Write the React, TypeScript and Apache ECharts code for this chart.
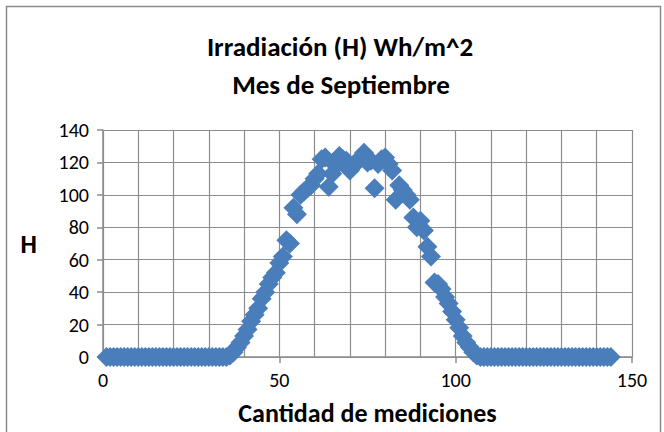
import React, { useEffect, useRef } from "react";
import * as echarts from "echarts";

const titleLines = ["Irradiación (H) Wh/m^2", "Mes de Septiembre"];
const xAxisName = "Cantidad de mediciones";
const yAxisName = "H";
const yTicks = [0, 20, 40, 60, 80, 100, 120, 140];
const xTicks = [0, 50, 100, 150];

// measurement index 1..144
const measurements: number[] = Array.from({ length: 144 }, (_, i) => i + 1);
// irradiation values
const irradiation: number[] = [
  // 1-35
  0, 0, 0, 0, 0, 0, 0, 0, 0, 0,
  0, 0, 0, 0, 0, 0, 0, 0, 0, 0,
  0, 0, 0, 0, 0, 0, 0, 0, 0, 0,
  0, 0, 0, 0, 0,
  // 36-50
  1, 3, 6, 9, 13, 17, 22, 26, 30, 36, 40, 45, 49, 52, 58,
  // 51-65
  62, 72, 70, 92, 88, 100, 102, 104, 106, 110, 113, 122, 123, 105, 113,
  // 66-80
  118, 124, 122, 121, 115, 118, 120, 123, 126, 120, 121, 104, 119, 122, 123,
  // 81-95
  119, 115, 97, 106, 103, 100, 97, 86, 80, 84, 78, 68, 62, 46, 45,
  // 96-107
  42, 37, 33, 28, 23, 18, 13, 9, 6, 3, 1, 0,
  // 108-144
  0, 0, 0, 0, 0, 0, 0, 0, 0, 0,
  0, 0, 0, 0, 0, 0, 0, 0, 0, 0,
  0, 0, 0, 0, 0, 0, 0, 0, 0, 0,
  0, 0, 0, 0, 0, 0, 0,
];

const FONT = "Carlito, Lato, 'Open Sans', sans-serif";
const GRID_COLOR = "#8c8c8c";

export default function App() {
  const ref = useRef<HTMLDivElement>(null);
  useEffect(() => {
    if (!ref.current) return;
    const chart = echarts.init(ref.current, undefined, { renderer: "svg" });
    const data = measurements.map((x, i) => [x, irradiation[i]]);
    chart.setOption({
      animation: false,
      backgroundColor: "#ffffff",
      grid: { left: 103, right: 32, top: 130, bottom: 75 },
      graphic: [
        {
          type: "rect",
          shape: { x: 6.5, y: 6.5, width: 654, height: 440 },
          style: { fill: "none", stroke: "#8a8a8a", lineWidth: 1.5 },
          silent: true,
        },
        {
          type: "text",
          x: 340,
          y: 46,
          style: {
            text: titleLines[0],
            font: `bold 27px ${FONT}`,
            fill: "#000",
            align: "center",
            verticalAlign: "middle",
          },
        },
        {
          type: "text",
          x: 341,
          y: 84,
          style: {
            text: titleLines[1],
            font: `bold 27px ${FONT}`,
            fill: "#000",
            align: "center",
            verticalAlign: "middle",
          },
        },
      ],
      xAxis: {
        type: "value",
        min: xTicks[0],
        max: xTicks[xTicks.length - 1],
        interval: 50,
        name: xAxisName,
        nameLocation: "middle",
        nameGap: 43,
        nameTextStyle: { fontFamily: FONT, fontWeight: "bold", fontSize: 26, color: "#000" },
        axisLine: { show: true, onZero: false, lineStyle: { color: GRID_COLOR, width: 1.5 } },
        axisTick: { show: true, inside: false, length: 6, lineStyle: { color: GRID_COLOR, width: 1.5 } },
        axisLabel: { fontFamily: FONT, fontSize: 20, color: "#000", margin: 13 },
        splitLine: { show: true, lineStyle: { color: GRID_COLOR, width: 1.2 } },
        minorTick: { show: false, splitNumber: 5 },
        minorSplitLine: { show: true, lineStyle: { color: GRID_COLOR, width: 1.2 } },
      },
      yAxis: {
        type: "value",
        min: yTicks[0],
        max: yTicks[yTicks.length - 1],
        interval: 20,
        name: yAxisName,
        nameLocation: "middle",
        nameRotate: 0,
        nameGap: 66,
        nameTextStyle: { fontFamily: FONT, fontWeight: "bold", fontSize: 26, color: "#000" },
        axisLine: { show: true, lineStyle: { color: GRID_COLOR, width: 1.5 } },
        axisTick: { show: true, inside: false, length: 6, lineStyle: { color: GRID_COLOR, width: 1.5 } },
        axisLabel: { fontFamily: FONT, fontSize: 20, color: "#000", margin: 14 },
        splitLine: { show: true, lineStyle: { color: GRID_COLOR, width: 1.2 } },
      },
      series: [
        {
          type: "scatter",
          data,
          symbol: "diamond",
          symbolSize: 20,
          itemStyle: { color: "#4a7ebb", opacity: 1 },
        },
      ],
    });
    return () => chart.dispose();
  }, []);
  return <div ref={ref} style={{ width: 664, height: 432, position: "absolute", left: 0, top: 0 }} />;
}
